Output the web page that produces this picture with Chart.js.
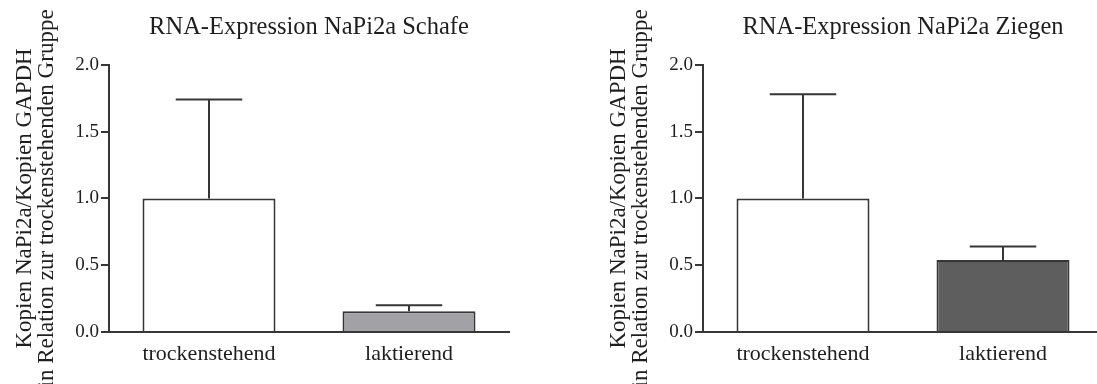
<!DOCTYPE html>
<html>
<head>
<meta charset="utf-8">
<title>RNA-Expression NaPi2a</title>
<script src="https://cdn.jsdelivr.net/npm/chart.js@4"></script>
<style>
  body { margin: 0; background: #fff; }
  #wrap { position: relative; width: 1097px; height: 384px; overflow: hidden; }
  .panel { position: absolute; top: 0; width: 594px; height: 384px; }
</style>
</head>
<body>
<div id="wrap">
  <div class="panel" style="left:0"><canvas id="schafeChart" width="594" height="384"></canvas></div>
  <div class="panel" style="left:594px"><canvas id="ziegenChart" width="594" height="384"></canvas></div>
</div>
<script>
var categories = ['trockenstehend', 'laktierend'];
var schafeMean = [1.0, 0.155];
var schafeSem = [0.74, 0.045];
var ziegenMean = [1.0, 0.54];
var ziegenSem = [0.78, 0.10];
var yTicks = ['0.0', '0.5', '1.0', '1.5', '2.0'];
var yTitle = ['Kopien NaPi2a/Kopien GAPDH', 'in Relation zur trockenstehenden Gruppe'];

var lineColor = '#363636';
var textColor = '#1e1e1e';

Chart.defaults.font.family = '"Liberation Serif", "Times New Roman", serif';

// whiskers above each bar (mean + SEM), placed with the chart's y scale
var errorBars = {
  id: 'errorBars',
  afterDatasetsDraw: function(chart) {
    var ctx = chart.ctx;
    var yScale = chart.scales.y;
    var ds = chart.data.datasets[0];
    var meta = chart.getDatasetMeta(0);
    ctx.save();
    ctx.strokeStyle = lineColor;
    ctx.lineWidth = 2;
    meta.data.forEach(function(bar, i) {
      var base = yScale.getPixelForValue(ds.data[i]);
      var top = yScale.getPixelForValue(ds.data[i] + ds.sem[i]);
      var half = bar.width / 4;
      ctx.beginPath();
      ctx.moveTo(bar.x, base);
      ctx.lineTo(bar.x, top);
      ctx.moveTo(bar.x - half, top);
      ctx.lineTo(bar.x + half, top);
      ctx.stroke();
    });
    ctx.restore();
  }
};

function makeChart(id, title, means, sem, fill) {
  var ctx = document.getElementById(id).getContext('2d');
  return new Chart(ctx, {
    type: 'bar',
    data: {
      labels: categories,
      datasets: [{
        data: means,
        sem: sem,
        backgroundColor: ['#ffffff', fill],
        borderColor: lineColor,
        borderWidth: 2,
        borderSkipped: 'start',
        barPercentage: 0.665,
        categoryPercentage: 1.0
      }]
    },
    options: {
      responsive: false,
      animation: false,
      layout: { padding: { left: 0, right: 85, top: 0, bottom: 0 } },
      plugins: {
        legend: { display: false },
        tooltip: { enabled: false },
        title: {
          display: true,
          text: title,
          fullSize: false,
          color: textColor,
          font: { size: 24.5, weight: 'normal' },
          padding: { top: 13, bottom: 22.5 }
        }
      },
      scales: {
        x: {
          grid: { display: false, drawTicks: false },
          border: { display: true, color: lineColor, width: 2 },
          ticks: { color: textColor, font: { size: 22 }, padding: 9 },
          afterFit: function(scale) { scale.height = 52; }
        },
        y: {
          min: 0,
          max: 2,
          ticks: {
            stepSize: 0.5,
            color: textColor,
            font: { size: 19 },
            padding: 2,
            callback: function(value, index) { return yTicks[index]; }
          },
          grid: { drawOnChartArea: false, tickLength: 8, color: lineColor, lineWidth: 2 },
          border: { color: lineColor, width: 2 },
          title: {
            display: true,
            text: yTitle,
            color: textColor,
            font: { size: 23, lineHeight: '22px' },
            padding: { top: 14, bottom: 0 }
          },
          afterFit: function(scale) { scale.width = 109; }
        }
      }
    },
    plugins: [errorBars]
  });
}

makeChart('schafeChart', 'RNA-Expression NaPi2a Schafe', schafeMean, schafeSem, '#a2a2a6');
makeChart('ziegenChart', 'RNA-Expression NaPi2a Ziegen', ziegenMean, ziegenSem, '#5e5e5e');
</script>
</body>
</html>
